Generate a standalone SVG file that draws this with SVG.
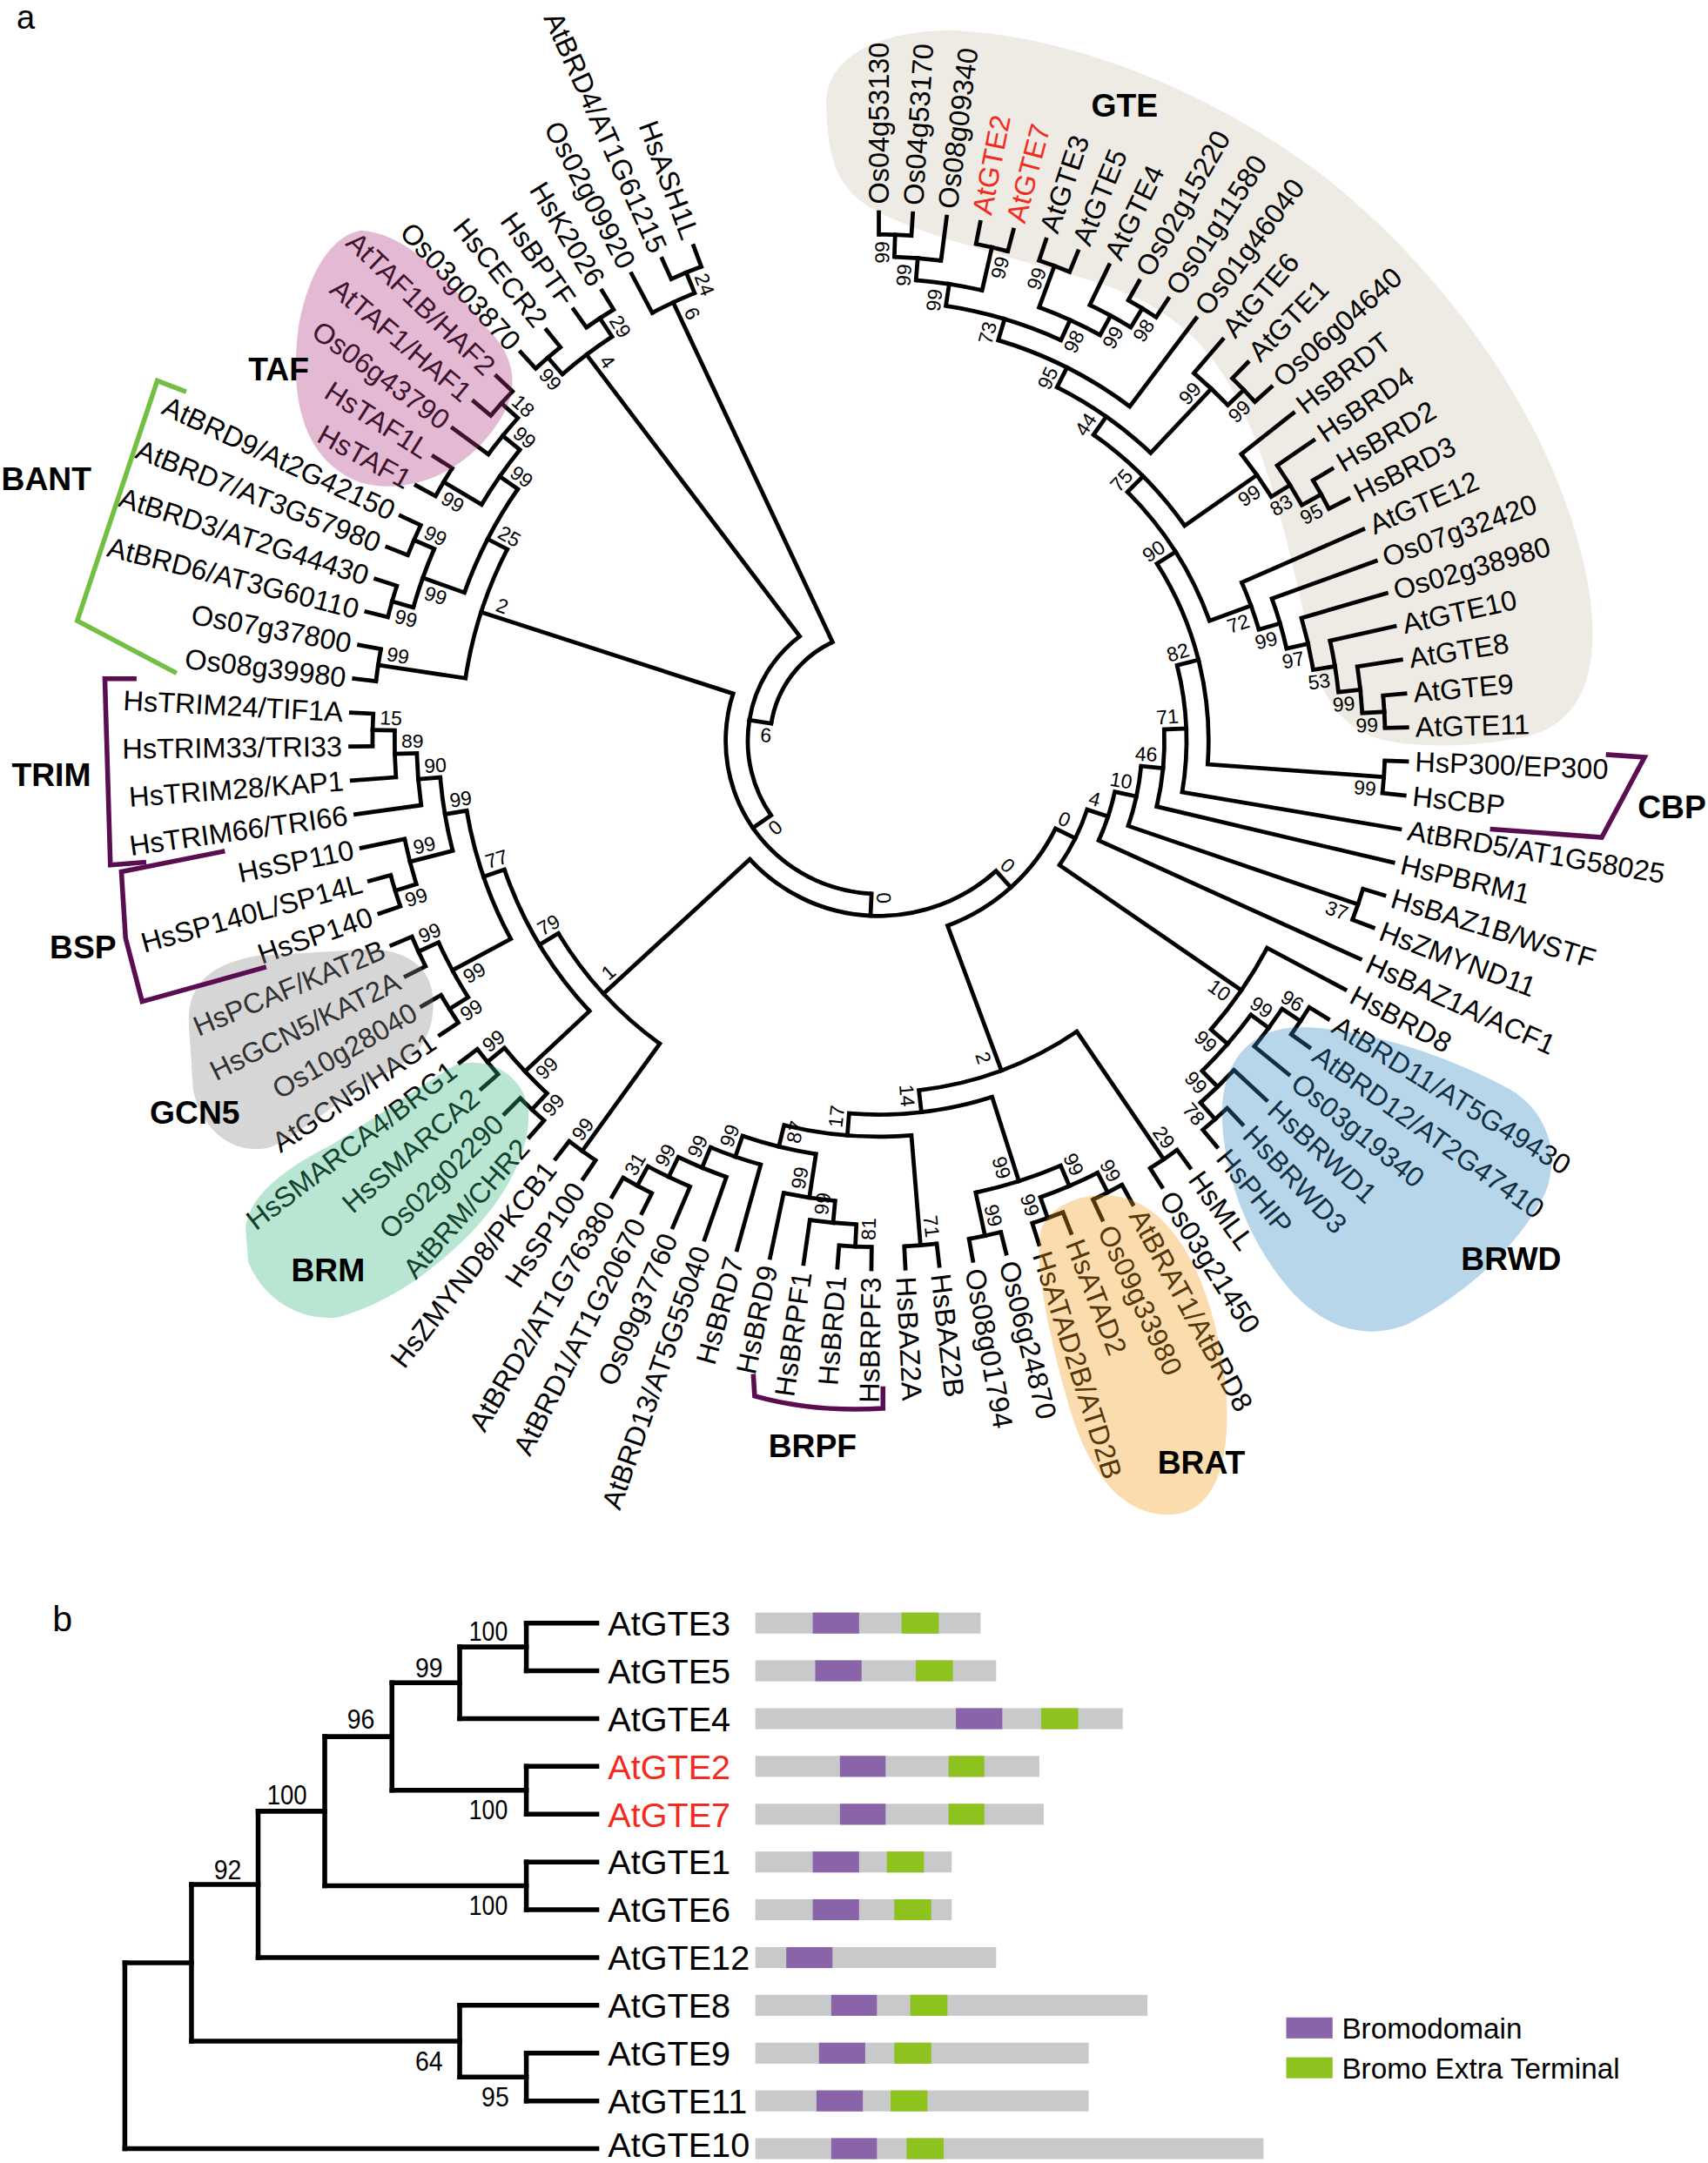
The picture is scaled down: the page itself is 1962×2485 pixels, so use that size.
<svg xmlns="http://www.w3.org/2000/svg" width="1962" height="2485" viewBox="0 0 1962 2485">
<style>
text{font-family:"Liberation Sans",Arial,sans-serif}
#connectors path,#connectors circle{fill:none;stroke:#000;stroke-width:3}
#connectors path{stroke-linecap:square}
.lf text{font-size:20.5px;dominant-baseline:central}
.lf .e{text-anchor:end}
.red{fill:#f52a1f}
.bsg text{font-size:14.5px;text-anchor:middle;dominant-baseline:central}
.grp{font-size:23.5px;font-weight:bold}
.brk{fill:none;stroke-width:3.5}
.pb{stroke:#5b0d52}
#tree-b path{fill:none;stroke:#000;stroke-width:3.5;stroke-linecap:square}
.bl{font-size:25px}
.bb{font-size:19.5px;text-anchor:middle}
.gy{fill:#c8c9cb}.pu{fill:#8a64a8}.gr{fill:#8dc21f}
</style>
<rect width="1962" height="2485" fill="#fff"/>
<g transform="scale(1.58481)">
<text x="12" y="21" font-size="24">a</text>
<path id="blob-GTE" fill="#eeebe4" d="M599,80 C595,40 640,22 690,22 C780,26 880,68 960,128 C1060,208 1130,318 1150,418 C1160,470 1155,520 1110,533 C1070,543 1010,543 990,532 C965,520 955,495 950,470 C940,420 925,350 900,295 C875,245 845,220 790,203 C720,183 665,170 630,150 C605,135 600,110 599,80 Z"/>
<g id="connectors" transform="translate(637 537)">
<circle r="367" pathLength="360" stroke-dasharray="3.69 400" transform="rotate(-90)"/>
<circle r="351" pathLength="360" stroke-dasharray="5.54 400" transform="rotate(-88.16)"/>
<circle r="367" pathLength="360" stroke-dasharray="3.69 400" transform="rotate(-78.93)"/>
<circle r="335" pathLength="360" stroke-dasharray="8.30 400" transform="rotate(-85.39)"/>
<circle r="367" pathLength="360" stroke-dasharray="3.69 400" transform="rotate(-71.55)"/>
<circle r="367" pathLength="360" stroke-dasharray="3.69 400" transform="rotate(-60.48)"/>
<circle r="351" pathLength="360" stroke-dasharray="5.53 400" transform="rotate(-64.17)"/>
<circle r="335" pathLength="360" stroke-dasharray="8.31 400" transform="rotate(-69.71)"/>
<circle r="319" pathLength="360" stroke-dasharray="15.69 400" transform="rotate(-81.24)"/>
<circle r="303" pathLength="360" stroke-dasharray="20.30 400" transform="rotate(-73.4)"/>
<circle r="367" pathLength="360" stroke-dasharray="3.69 400" transform="rotate(-45.72)"/>
<circle r="351" pathLength="360" stroke-dasharray="5.53 400" transform="rotate(-49.41)"/>
<circle r="287" pathLength="360" stroke-dasharray="16.61 400" transform="rotate(-63.25)"/>
<circle r="367" pathLength="360" stroke-dasharray="3.69 400" transform="rotate(-30.96)"/>
<circle r="351" pathLength="360" stroke-dasharray="5.53 400" transform="rotate(-34.65)"/>
<circle r="335" pathLength="360" stroke-dasharray="6.46 400" transform="rotate(-38.34)"/>
<circle r="271" pathLength="360" stroke-dasharray="19.84 400" transform="rotate(-54.95)"/>
<circle r="367" pathLength="360" stroke-dasharray="3.69 400" transform="rotate(-5.13)"/>
<circle r="351" pathLength="360" stroke-dasharray="5.53 400" transform="rotate(-8.82)"/>
<circle r="335" pathLength="360" stroke-dasharray="6.46 400" transform="rotate(-12.51)"/>
<circle r="319" pathLength="360" stroke-dasharray="6.92 400" transform="rotate(-16.2)"/>
<circle r="303" pathLength="360" stroke-dasharray="7.15 400" transform="rotate(-19.89)"/>
<circle r="287" pathLength="360" stroke-dasharray="7.26 400" transform="rotate(-23.58)"/>
<circle r="255" pathLength="360" stroke-dasharray="25.08 400" transform="rotate(-45.03)"/>
<circle r="367" pathLength="360" stroke-dasharray="3.69 400" transform="rotate(2.25)"/>
<circle r="239" pathLength="360" stroke-dasharray="36.59 400" transform="rotate(-32.49)"/>
<circle r="223" pathLength="360" stroke-dasharray="23.83 400" transform="rotate(-14.2)"/>
<circle r="207" pathLength="360" stroke-dasharray="15.61 400" transform="rotate(-2.29)"/>
<circle r="367" pathLength="360" stroke-dasharray="3.69 400" transform="rotate(17.01)"/>
<circle r="191" pathLength="360" stroke-dasharray="13.34 400" transform="rotate(5.52)"/>
<circle r="175" pathLength="360" stroke-dasharray="12.20 400" transform="rotate(12.19)"/>
<circle r="367" pathLength="360" stroke-dasharray="3.69 400" transform="rotate(31.77)"/>
<circle r="351" pathLength="360" stroke-dasharray="5.53 400" transform="rotate(33.62)"/>
<circle r="367" pathLength="360" stroke-dasharray="3.69 400" transform="rotate(46.53)"/>
<circle r="351" pathLength="360" stroke-dasharray="5.54 400" transform="rotate(42.84)"/>
<circle r="335" pathLength="360" stroke-dasharray="9.23 400" transform="rotate(36.38)"/>
<circle r="319" pathLength="360" stroke-dasharray="12.92 400" transform="rotate(28.08)"/>
<circle r="159" pathLength="360" stroke-dasharray="16.25 400" transform="rotate(18.29)"/>
<circle r="367" pathLength="360" stroke-dasharray="3.69 400" transform="rotate(53.91)"/>
<circle r="367" pathLength="360" stroke-dasharray="3.69 400" transform="rotate(61.29)"/>
<circle r="367" pathLength="360" stroke-dasharray="3.69 400" transform="rotate(68.67)"/>
<circle r="351" pathLength="360" stroke-dasharray="7.38 400" transform="rotate(63.14)"/>
<circle r="367" pathLength="360" stroke-dasharray="3.69 400" transform="rotate(76.05)"/>
<circle r="335" pathLength="360" stroke-dasharray="11.07 400" transform="rotate(66.83)"/>
<circle r="367" pathLength="360" stroke-dasharray="3.69 400" transform="rotate(83.43)"/>
<circle r="367" pathLength="360" stroke-dasharray="3.69 400" transform="rotate(90.81)"/>
<circle r="351" pathLength="360" stroke-dasharray="5.53 400" transform="rotate(92.66)"/>
<circle r="335" pathLength="360" stroke-dasharray="6.46 400" transform="rotate(95.42)"/>
<circle r="367" pathLength="360" stroke-dasharray="3.69 400" transform="rotate(116.64)"/>
<circle r="351" pathLength="360" stroke-dasharray="5.54 400" transform="rotate(112.95)"/>
<circle r="335" pathLength="360" stroke-dasharray="6.46 400" transform="rotate(109.26)"/>
<circle r="319" pathLength="360" stroke-dasharray="6.92 400" transform="rotate(105.57)"/>
<circle r="303" pathLength="360" stroke-dasharray="10.38 400" transform="rotate(98.65)"/>
<circle r="287" pathLength="360" stroke-dasharray="18.56 400" transform="rotate(85.28)"/>
<circle r="271" pathLength="360" stroke-dasharray="22.20 400" transform="rotate(72.36)"/>
<circle r="255" pathLength="360" stroke-dasharray="27.70 400" transform="rotate(55.76)"/>
<circle r="143" pathLength="360" stroke-dasharray="43.20 400" transform="rotate(26.41)"/>
<circle r="367" pathLength="360" stroke-dasharray="3.69 400" transform="rotate(124.02)"/>
<circle r="367" pathLength="360" stroke-dasharray="3.69 400" transform="rotate(131.4)"/>
<circle r="367" pathLength="360" stroke-dasharray="3.69 400" transform="rotate(138.78)"/>
<circle r="351" pathLength="360" stroke-dasharray="7.38 400" transform="rotate(133.25)"/>
<circle r="367" pathLength="360" stroke-dasharray="3.69 400" transform="rotate(146.16)"/>
<circle r="367" pathLength="360" stroke-dasharray="3.69 400" transform="rotate(153.54)"/>
<circle r="351" pathLength="360" stroke-dasharray="7.38 400" transform="rotate(148.01)"/>
<circle r="367" pathLength="360" stroke-dasharray="3.69 400" transform="rotate(160.92)"/>
<circle r="351" pathLength="360" stroke-dasharray="5.53 400" transform="rotate(162.77)"/>
<circle r="367" pathLength="360" stroke-dasharray="3.69 400" transform="rotate(179.37)"/>
<circle r="351" pathLength="360" stroke-dasharray="5.54 400" transform="rotate(175.68)"/>
<circle r="335" pathLength="360" stroke-dasharray="6.46 400" transform="rotate(171.99)"/>
<circle r="319" pathLength="360" stroke-dasharray="9.69 400" transform="rotate(165.53)"/>
<circle r="303" pathLength="360" stroke-dasharray="18.68 400" transform="rotate(151.7)"/>
<circle r="287" pathLength="360" stroke-dasharray="24.09 400" transform="rotate(136.94)"/>
<circle r="271" pathLength="360" stroke-dasharray="23.12 400" transform="rotate(125.87)"/>
<circle r="127" pathLength="360" stroke-dasharray="89.42 400" transform="rotate(48.01)"/>
<circle r="367" pathLength="360" stroke-dasharray="3.69 400" transform="rotate(186.75)"/>
<circle r="367" pathLength="360" stroke-dasharray="3.69 400" transform="rotate(194.13)"/>
<circle r="367" pathLength="360" stroke-dasharray="3.69 400" transform="rotate(201.51)"/>
<circle r="351" pathLength="360" stroke-dasharray="7.38 400" transform="rotate(195.98)"/>
<circle r="367" pathLength="360" stroke-dasharray="3.69 400" transform="rotate(208.89)"/>
<circle r="367" pathLength="360" stroke-dasharray="3.69 400" transform="rotate(219.96)"/>
<circle r="351" pathLength="360" stroke-dasharray="5.54 400" transform="rotate(216.27)"/>
<circle r="335" pathLength="360" stroke-dasharray="8.30 400" transform="rotate(210.74)"/>
<circle r="319" pathLength="360" stroke-dasharray="15.22 400" transform="rotate(199.67)"/>
<circle r="303" pathLength="360" stroke-dasharray="18.68 400" transform="rotate(188.6)"/>
<circle r="111" pathLength="360" stroke-dasharray="105.21 400" transform="rotate(92.72)"/>
<circle r="367" pathLength="360" stroke-dasharray="3.69 400" transform="rotate(227.34)"/>
<circle r="367" pathLength="360" stroke-dasharray="3.69 400" transform="rotate(234.72)"/>
<circle r="351" pathLength="360" stroke-dasharray="7.38 400" transform="rotate(229.19)"/>
<circle r="95" pathLength="360" stroke-dasharray="87.55 400" transform="rotate(145.33)"/>
<circle r="367" pathLength="360" stroke-dasharray="3.69 400" transform="rotate(245.79)"/>
<circle r="351" pathLength="360" stroke-dasharray="5.54 400" transform="rotate(242.1)"/>
<circle r="79" pathLength="360" stroke-dasharray="55.77 400" transform="rotate(189.1)"/>
<path transform="rotate(-88.16)" d="M351 0H367"/>
<path transform="rotate(-85.39)" d="M335 0H351"/>
<path transform="rotate(-77.09)" d="M335 0H367"/>
<path transform="rotate(-81.24)" d="M319 0H335"/>
<path transform="rotate(-69.71)" d="M335 0H367"/>
<path transform="rotate(-58.64)" d="M351 0H367"/>
<path transform="rotate(-61.4)" d="M335 0H351"/>
<path transform="rotate(-65.55)" d="M319 0H335"/>
<path transform="rotate(-73.4)" d="M303 0H319"/>
<path transform="rotate(-63.25)" d="M287 0H303"/>
<path transform="rotate(-43.88)" d="M351 0H367"/>
<path transform="rotate(-46.64)" d="M287 0H351"/>
<path transform="rotate(-54.95)" d="M271 0H287"/>
<path transform="rotate(-29.12)" d="M351 0H367"/>
<path transform="rotate(-31.88)" d="M335 0H351"/>
<path transform="rotate(-35.11)" d="M271 0H335"/>
<path transform="rotate(-45.03)" d="M255 0H271"/>
<path transform="rotate(-3.29)" d="M351 0H367"/>
<path transform="rotate(-6.05)" d="M335 0H351"/>
<path transform="rotate(-9.28)" d="M319 0H335"/>
<path transform="rotate(-12.74)" d="M303 0H319"/>
<path transform="rotate(-16.32)" d="M287 0H303"/>
<path transform="rotate(-19.95)" d="M255 0H287"/>
<path transform="rotate(-32.49)" d="M239 0H255"/>
<path transform="rotate(4.1)" d="M239 0H367"/>
<path transform="rotate(-14.2)" d="M223 0H239"/>
<path transform="rotate(-2.29)" d="M207 0H223"/>
<path transform="rotate(5.52)" d="M191 0H207"/>
<path transform="rotate(18.86)" d="M191 0H367"/>
<path transform="rotate(12.19)" d="M175 0H191"/>
<path transform="rotate(18.29)" d="M159 0H175"/>
<path transform="rotate(33.62)" d="M351 0H367"/>
<path transform="rotate(36.38)" d="M335 0H351"/>
<path transform="rotate(48.38)" d="M351 0H367"/>
<path transform="rotate(45.61)" d="M335 0H351"/>
<path transform="rotate(41)" d="M319 0H335"/>
<path transform="rotate(34.54)" d="M159 0H319"/>
<path transform="rotate(26.41)" d="M143 0H159"/>
<path transform="rotate(55.76)" d="M255 0H367"/>
<path transform="rotate(63.14)" d="M351 0H367"/>
<path transform="rotate(70.52)" d="M351 0H367"/>
<path transform="rotate(66.83)" d="M335 0H351"/>
<path transform="rotate(77.9)" d="M335 0H367"/>
<path transform="rotate(72.36)" d="M271 0H335"/>
<path transform="rotate(85.28)" d="M287 0H367"/>
<path transform="rotate(92.66)" d="M351 0H367"/>
<path transform="rotate(95.42)" d="M335 0H351"/>
<path transform="rotate(98.65)" d="M303 0H335"/>
<path transform="rotate(118.49)" d="M351 0H367"/>
<path transform="rotate(115.72)" d="M335 0H351"/>
<path transform="rotate(112.49)" d="M319 0H335"/>
<path transform="rotate(109.03)" d="M303 0H319"/>
<path transform="rotate(103.84)" d="M287 0H303"/>
<path transform="rotate(94.56)" d="M271 0H287"/>
<path transform="rotate(83.46)" d="M255 0H271"/>
<path transform="rotate(69.61)" d="M143 0H255"/>
<path transform="rotate(48.01)" d="M127 0H143"/>
<path transform="rotate(125.87)" d="M271 0H367"/>
<path transform="rotate(133.25)" d="M351 0H367"/>
<path transform="rotate(140.63)" d="M351 0H367"/>
<path transform="rotate(136.94)" d="M287 0H351"/>
<path transform="rotate(148.01)" d="M351 0H367"/>
<path transform="rotate(155.39)" d="M351 0H367"/>
<path transform="rotate(151.7)" d="M303 0H351"/>
<path transform="rotate(162.77)" d="M351 0H367"/>
<path transform="rotate(165.53)" d="M319 0H351"/>
<path transform="rotate(181.22)" d="M351 0H367"/>
<path transform="rotate(178.45)" d="M335 0H351"/>
<path transform="rotate(175.22)" d="M319 0H335"/>
<path transform="rotate(170.38)" d="M303 0H319"/>
<path transform="rotate(161.03)" d="M287 0H303"/>
<path transform="rotate(148.99)" d="M271 0H287"/>
<path transform="rotate(137.43)" d="M127 0H271"/>
<path transform="rotate(92.72)" d="M111 0H127"/>
<path transform="rotate(188.6)" d="M303 0H367"/>
<path transform="rotate(195.98)" d="M351 0H367"/>
<path transform="rotate(203.36)" d="M351 0H367"/>
<path transform="rotate(199.67)" d="M319 0H351"/>
<path transform="rotate(210.74)" d="M335 0H367"/>
<path transform="rotate(221.81)" d="M351 0H367"/>
<path transform="rotate(219.04)" d="M335 0H351"/>
<path transform="rotate(214.89)" d="M319 0H335"/>
<path transform="rotate(207.28)" d="M303 0H319"/>
<path transform="rotate(197.93)" d="M111 0H303"/>
<path transform="rotate(145.33)" d="M95 0H111"/>
<path transform="rotate(229.19)" d="M351 0H367"/>
<path transform="rotate(236.57)" d="M351 0H367"/>
<path transform="rotate(232.88)" d="M95 0H351"/>
<path transform="rotate(189.1)" d="M79 0H95"/>
<path transform="rotate(247.64)" d="M351 0H367"/>
<path transform="rotate(244.87)" d="M79 0H351"/>
<path transform="rotate(-90)" d="M367 0H383"/>
<path transform="rotate(-86.31)" d="M367 0H383"/>
<path transform="rotate(-82.62)" d="M351 0H383"/>
<path transform="rotate(-78.93)" d="M367 0H383"/>
<path transform="rotate(-75.24)" d="M367 0H383"/>
<path transform="rotate(-71.55)" d="M367 0H383"/>
<path transform="rotate(-67.86)" d="M367 0H383"/>
<path transform="rotate(-64.17)" d="M351 0H383"/>
<path transform="rotate(-60.48)" d="M367 0H383"/>
<path transform="rotate(-56.79)" d="M367 0H383"/>
<path transform="rotate(-53.1)" d="M303 0H383"/>
<path transform="rotate(-49.41)" d="M351 0H383"/>
<path transform="rotate(-45.72)" d="M367 0H383"/>
<path transform="rotate(-42.03)" d="M367 0H383"/>
<path transform="rotate(-38.34)" d="M335 0H383"/>
<path transform="rotate(-34.65)" d="M351 0H383"/>
<path transform="rotate(-30.96)" d="M367 0H383"/>
<path transform="rotate(-27.27)" d="M367 0H383"/>
<path transform="rotate(-23.58)" d="M287 0H383"/>
<path transform="rotate(-19.89)" d="M303 0H383"/>
<path transform="rotate(-16.2)" d="M319 0H383"/>
<path transform="rotate(-12.51)" d="M335 0H383"/>
<path transform="rotate(-8.82)" d="M351 0H383"/>
<path transform="rotate(-5.13)" d="M367 0H383"/>
<path transform="rotate(-1.44)" d="M367 0H383"/>
<path transform="rotate(2.25)" d="M367 0H383"/>
<path transform="rotate(5.94)" d="M367 0H383"/>
<path transform="rotate(9.63)" d="M223 0H383"/>
<path transform="rotate(13.32)" d="M207 0H383"/>
<path transform="rotate(17.01)" d="M367 0H383"/>
<path transform="rotate(20.7)" d="M367 0H383"/>
<path transform="rotate(24.39)" d="M175 0H383"/>
<path transform="rotate(28.08)" d="M319 0H383"/>
<path transform="rotate(31.77)" d="M367 0H383"/>
<path transform="rotate(35.46)" d="M367 0H383"/>
<path transform="rotate(39.15)" d="M351 0H383"/>
<path transform="rotate(42.84)" d="M351 0H383"/>
<path transform="rotate(46.53)" d="M367 0H383"/>
<path transform="rotate(50.22)" d="M367 0H383"/>
<path transform="rotate(53.91)" d="M367 0H383"/>
<path transform="rotate(57.6)" d="M367 0H383"/>
<path transform="rotate(61.29)" d="M367 0H383"/>
<path transform="rotate(64.98)" d="M367 0H383"/>
<path transform="rotate(68.67)" d="M367 0H383"/>
<path transform="rotate(72.36)" d="M367 0H383"/>
<path transform="rotate(76.05)" d="M367 0H383"/>
<path transform="rotate(79.74)" d="M367 0H383"/>
<path transform="rotate(83.43)" d="M367 0H383"/>
<path transform="rotate(87.12)" d="M367 0H383"/>
<path transform="rotate(90.81)" d="M367 0H383"/>
<path transform="rotate(94.5)" d="M367 0H383"/>
<path transform="rotate(98.19)" d="M351 0H383"/>
<path transform="rotate(101.88)" d="M335 0H383"/>
<path transform="rotate(105.57)" d="M319 0H383"/>
<path transform="rotate(109.26)" d="M335 0H383"/>
<path transform="rotate(112.95)" d="M351 0H383"/>
<path transform="rotate(116.64)" d="M367 0H383"/>
<path transform="rotate(120.33)" d="M367 0H383"/>
<path transform="rotate(124.02)" d="M367 0H383"/>
<path transform="rotate(127.71)" d="M367 0H383"/>
<path transform="rotate(131.4)" d="M367 0H383"/>
<path transform="rotate(135.09)" d="M367 0H383"/>
<path transform="rotate(138.78)" d="M367 0H383"/>
<path transform="rotate(142.47)" d="M367 0H383"/>
<path transform="rotate(146.16)" d="M367 0H383"/>
<path transform="rotate(149.85)" d="M367 0H383"/>
<path transform="rotate(153.54)" d="M367 0H383"/>
<path transform="rotate(157.23)" d="M367 0H383"/>
<path transform="rotate(160.92)" d="M367 0H383"/>
<path transform="rotate(164.61)" d="M367 0H383"/>
<path transform="rotate(168.3)" d="M351 0H383"/>
<path transform="rotate(171.99)" d="M335 0H383"/>
<path transform="rotate(175.68)" d="M351 0H383"/>
<path transform="rotate(179.37)" d="M367 0H383"/>
<path transform="rotate(183.06)" d="M367 0H383"/>
<path transform="rotate(186.75)" d="M367 0H383"/>
<path transform="rotate(190.44)" d="M367 0H383"/>
<path transform="rotate(194.13)" d="M367 0H383"/>
<path transform="rotate(197.82)" d="M367 0H383"/>
<path transform="rotate(201.51)" d="M367 0H383"/>
<path transform="rotate(205.2)" d="M367 0H383"/>
<path transform="rotate(208.89)" d="M367 0H383"/>
<path transform="rotate(212.58)" d="M367 0H383"/>
<path transform="rotate(216.27)" d="M351 0H383"/>
<path transform="rotate(219.96)" d="M367 0H383"/>
<path transform="rotate(223.65)" d="M367 0H383"/>
<path transform="rotate(227.34)" d="M367 0H383"/>
<path transform="rotate(231.03)" d="M367 0H383"/>
<path transform="rotate(234.72)" d="M367 0H383"/>
<path transform="rotate(238.41)" d="M367 0H383"/>
<path transform="rotate(242.1)" d="M351 0H383"/>
<path transform="rotate(245.79)" d="M367 0H383"/>
<path transform="rotate(249.48)" d="M367 0H383"/>
</g>
<g id="leaves" class="lf" transform="translate(637 537)">
<text id="n-Os04g53130" transform="rotate(-90) translate(389 0)">Os04g53130</text>
<text id="n-Os04g53170" transform="rotate(-86.31) translate(389 0)">Os04g53170</text>
<text id="n-Os08g09340" transform="rotate(-82.62) translate(389 0)">Os08g09340</text>
<text id="n-AtGTE2" class="red" transform="rotate(-78.93) translate(389 0)">AtGTE2</text>
<text id="n-AtGTE7" class="red" transform="rotate(-75.24) translate(389 0)">AtGTE7</text>
<text id="n-AtGTE3" transform="rotate(-71.55) translate(389 0)">AtGTE3</text>
<text id="n-AtGTE5" transform="rotate(-67.86) translate(389 0)">AtGTE5</text>
<text id="n-AtGTE4" transform="rotate(-64.17) translate(389 0)">AtGTE4</text>
<text id="n-Os02g15220" transform="rotate(-60.48) translate(389 0)">Os02g15220</text>
<text id="n-Os01g11580" transform="rotate(-56.79) translate(389 0)">Os01g11580</text>
<text id="n-Os01g46040" transform="rotate(-53.1) translate(389 0)">Os01g46040</text>
<text id="n-AtGTE6" transform="rotate(-49.41) translate(389 0)">AtGTE6</text>
<text id="n-AtGTE1" transform="rotate(-45.72) translate(389 0)">AtGTE1</text>
<text id="n-Os06g04640" transform="rotate(-42.03) translate(389 0)">Os06g04640</text>
<text id="n-HsBRDT" transform="rotate(-38.34) translate(389 0)">HsBRDT</text>
<text id="n-HsBRD4" transform="rotate(-34.65) translate(389 0)">HsBRD4</text>
<text id="n-HsBRD2" transform="rotate(-30.96) translate(389 0)">HsBRD2</text>
<text id="n-HsBRD3" transform="rotate(-27.27) translate(389 0)">HsBRD3</text>
<text id="n-AtGTE12" transform="rotate(-23.58) translate(389 0)">AtGTE12</text>
<text id="n-Os07g32420" transform="rotate(-19.89) translate(389 0)">Os07g32420</text>
<text id="n-Os02g38980" transform="rotate(-16.2) translate(389 0)">Os02g38980</text>
<text id="n-AtGTE10" transform="rotate(-12.51) translate(389 0)">AtGTE10</text>
<text id="n-AtGTE8" transform="rotate(-8.82) translate(389 0)">AtGTE8</text>
<text id="n-AtGTE9" transform="rotate(-5.13) translate(389 0)">AtGTE9</text>
<text id="n-AtGTE11" transform="rotate(-1.44) translate(389 0)">AtGTE11</text>
<text id="n-HsP300" transform="rotate(2.25) translate(389 0)">HsP300/EP300</text>
<text id="n-HsCBP" transform="rotate(5.94) translate(389 0)">HsCBP</text>
<text id="n-AtBRD5" transform="rotate(9.63) translate(389 0)">AtBRD5/AT1G58025</text>
<text id="n-HsPBRM1" transform="rotate(13.32) translate(389 0)">HsPBRM1</text>
<text id="n-HsBAZ1B" transform="rotate(17.01) translate(389 0)">HsBAZ1B/WSTF</text>
<text id="n-HsZMYND11" transform="rotate(20.7) translate(389 0)">HsZMYND11</text>
<text id="n-HsBAZ1A" transform="rotate(24.39) translate(389 0)">HsBAZ1A/ACF1</text>
<text id="n-HsBRD8" transform="rotate(28.08) translate(389 0)">HsBRD8</text>
<text id="n-AtBRD11" transform="rotate(31.77) translate(389 0)">AtBRD11/AT5G49430</text>
<text id="n-AtBRD12" transform="rotate(35.46) translate(389 0)">AtBRD12/AT2G47410</text>
<text id="n-Os03g19340" transform="rotate(39.15) translate(389 0)">Os03g19340</text>
<text id="n-HsBRWD1" transform="rotate(42.84) translate(389 0)">HsBRWD1</text>
<text id="n-HsBRWD3" transform="rotate(46.53) translate(389 0)">HsBRWD3</text>
<text id="n-HsPHIP" transform="rotate(50.22) translate(389 0)">HsPHIP</text>
<text id="n-HsMLL" transform="rotate(53.91) translate(389 0)">HsMLL</text>
<text id="n-Os03g21450" transform="rotate(57.6) translate(389 0)">Os03g21450</text>
<text id="n-AtBRAT1" transform="rotate(61.29) translate(389 0)">AtBRAT1/AtBRD8</text>
<text id="n-Os09g33980" transform="rotate(64.98) translate(389 0)">Os09g33980</text>
<text id="n-HsATAD2" transform="rotate(68.67) translate(389 0)">HsATAD2</text>
<text id="n-HsATAD2B" transform="rotate(72.36) translate(389 0)">HsATAD2B/ATD2B</text>
<text id="n-Os06g24870" transform="rotate(76.05) translate(389 0)">Os06g24870</text>
<text id="n-Os08g01794" transform="rotate(79.74) translate(389 0)">Os08g01794</text>
<text id="n-HsBAZ2B" transform="rotate(83.43) translate(389 0)">HsBAZ2B</text>
<text id="n-HsBAZ2A" transform="rotate(87.12) translate(389 0)">HsBAZ2A</text>
<text id="n-HsBRPF3" class="e" transform="rotate(90.81) translate(389 0) rotate(180)">HsBRPF3</text>
<text id="n-HsBRD1" class="e" transform="rotate(94.5) translate(389 0) rotate(180)">HsBRD1</text>
<text id="n-HsBRPF1" class="e" transform="rotate(98.19) translate(389 0) rotate(180)">HsBRPF1</text>
<text id="n-HsBRD9" class="e" transform="rotate(101.88) translate(389 0) rotate(180)">HsBRD9</text>
<text id="n-HsBRD7" class="e" transform="rotate(105.57) translate(389 0) rotate(180)">HsBRD7</text>
<text id="n-AtBRD13" class="e" transform="rotate(109.26) translate(389 0) rotate(180)">AtBRD13/AT5G55040</text>
<text id="n-Os09g37760" class="e" transform="rotate(112.95) translate(389 0) rotate(180)">Os09g37760</text>
<text id="n-AtBRD1" class="e" transform="rotate(116.64) translate(389 0) rotate(180)">AtBRD1/AT1G20670</text>
<text id="n-AtBRD2" class="e" transform="rotate(120.33) translate(389 0) rotate(180)">AtBRD2/AT1G76380</text>
<text id="n-HsSP100" class="e" transform="rotate(124.02) translate(389 0) rotate(180)">HsSP100</text>
<text id="n-HsZMYND8" class="e" transform="rotate(127.71) translate(389 0) rotate(180)">HsZMYND8/PKCB1</text>
<text id="n-AtBRM" class="e" transform="rotate(131.4) translate(389 0) rotate(180)">AtBRM/CHR2</text>
<text id="n-Os02g02290" class="e" transform="rotate(135.09) translate(389 0) rotate(180)">Os02g02290</text>
<text id="n-HsSMARCA2" class="e" transform="rotate(138.78) translate(389 0) rotate(180)">HsSMARCA2</text>
<text id="n-HsSMARCA4" class="e" transform="rotate(142.47) translate(389 0) rotate(180)">HsSMARCA4/BRG1</text>
<text id="n-AtGCN5" class="e" transform="rotate(146.16) translate(389 0) rotate(180)">AtGCN5/HAG1</text>
<text id="n-Os10g28040" class="e" transform="rotate(149.85) translate(389 0) rotate(180)">Os10g28040</text>
<text id="n-HsGCN5" class="e" transform="rotate(153.54) translate(389 0) rotate(180)">HsGCN5/KAT2A</text>
<text id="n-HsPCAF" class="e" transform="rotate(157.23) translate(389 0) rotate(180)">HsPCAF/KAT2B</text>
<text id="n-HsSP140" class="e" transform="rotate(160.92) translate(389 0) rotate(180)">HsSP140</text>
<text id="n-HsSP140L" class="e" transform="rotate(164.61) translate(389 0) rotate(180)">HsSP140L/SP14L</text>
<text id="n-HsSP110" class="e" transform="rotate(168.3) translate(389 0) rotate(180)">HsSP110</text>
<text id="n-HsTRIM66" class="e" transform="rotate(171.99) translate(389 0) rotate(180)">HsTRIM66/TRI66</text>
<text id="n-HsTRIM28" class="e" transform="rotate(175.68) translate(389 0) rotate(180)">HsTRIM28/KAP1</text>
<text id="n-HsTRIM33" class="e" transform="rotate(179.37) translate(389 0) rotate(180)">HsTRIM33/TRI33</text>
<text id="n-HsTRIM24" class="e" transform="rotate(183.06) translate(389 0) rotate(180)">HsTRIM24/TIF1A</text>
<text id="n-Os08g39980" class="e" transform="rotate(186.75) translate(389 0) rotate(180)">Os08g39980</text>
<text id="n-Os07g37800" class="e" transform="rotate(190.44) translate(389 0) rotate(180)">Os07g37800</text>
<text id="n-AtBRD6" class="e" transform="rotate(194.13) translate(389 0) rotate(180)">AtBRD6/AT3G60110</text>
<text id="n-AtBRD3" class="e" transform="rotate(197.82) translate(389 0) rotate(180)">AtBRD3/AT2G44430</text>
<text id="n-AtBRD7" class="e" transform="rotate(201.51) translate(389 0) rotate(180)">AtBRD7/AT3G57980</text>
<text id="n-AtBRD9" class="e" transform="rotate(205.2) translate(389 0) rotate(180)">AtBRD9/At2G42150</text>
<text id="n-HsTAF1" class="e" transform="rotate(208.89) translate(389 0) rotate(180)">HsTAF1</text>
<text id="n-HsTAF1L" class="e" transform="rotate(212.58) translate(389 0) rotate(180)">HsTAF1L</text>
<text id="n-Os06g43790" class="e" transform="rotate(216.27) translate(389 0) rotate(180)">Os06g43790</text>
<text id="n-AtTAF1" class="e" transform="rotate(219.96) translate(389 0) rotate(180)">AtTAF1/HAF1</text>
<text id="n-AtTAF1B" class="e" transform="rotate(223.65) translate(389 0) rotate(180)">AtTAF1B/HAF2</text>
<text id="n-Os03g03870" class="e" transform="rotate(227.34) translate(389 0) rotate(180)">Os03g03870</text>
<text id="n-HsCECR2" class="e" transform="rotate(231.03) translate(389 0) rotate(180)">HsCECR2</text>
<text id="n-HsBPTF" class="e" transform="rotate(234.72) translate(389 0) rotate(180)">HsBPTF</text>
<text id="n-HsK2026" class="e" transform="rotate(238.41) translate(389 0) rotate(180)">HsK2026</text>
<text id="n-Os02g09920" class="e" transform="rotate(242.1) translate(389 0) rotate(180)">Os02g09920</text>
<text id="n-AtBRD4" class="e" transform="rotate(245.79) translate(389 0) rotate(180)">AtBRD4/AT1G61215</text>
<text id="n-HsASH1L" class="e" transform="rotate(249.48) translate(389 0) rotate(180)">HsASH1L</text>
</g>
<g id="support" class="bsg" transform="translate(637 537)">
<text transform="rotate(-89.62) translate(354 0)">99</text>
<text transform="rotate(-86.92) translate(338 0)">99</text>
<text transform="rotate(-75.63) translate(354 0)">99</text>
<text transform="rotate(-82.84) translate(322 0)">99</text>
<text transform="rotate(-71.17) translate(354 0)">99</text>
<text transform="rotate(-57.18) translate(354 0)">98</text>
<text transform="rotate(-59.87) translate(338 0)">99</text>
<text transform="rotate(-63.95) translate(322 0)">98</text>
<text transform="rotate(-75.09) translate(306 0)">73</text>
<text transform="rotate(-65.03) translate(290 0)">95</text>
<text transform="rotate(-42.42) translate(354 0)">99</text>
<text transform="rotate(-48.17) translate(338 0)">99</text>
<text transform="rotate(-56.83) translate(274 0)">44</text>
<text transform="rotate(-27.66) translate(354 0)">95</text>
<text transform="rotate(-30.35) translate(338 0)">83</text>
<text transform="rotate(-33.51) translate(322 0)">99</text>
<text transform="rotate(-47.03) translate(258 0)">75</text>
<text transform="rotate(-1.83) translate(354 0)">99</text>
<text transform="rotate(-4.52) translate(338 0)">99</text>
<text transform="rotate(-7.68) translate(322 0)">53</text>
<text transform="rotate(-11.05) translate(306 0)">97</text>
<text transform="rotate(-14.54) translate(290 0)">99</text>
<text transform="rotate(-18.07) translate(274 0)">72</text>
<text transform="rotate(-34.62) translate(242 0)">90</text>
<text transform="rotate(5.56) translate(354 0)">99</text>
<text transform="rotate(-16.48) translate(226 0)">82</text>
<text transform="rotate(-4.75) translate(210 0)">71</text>
<text transform="rotate(2.86) translate(194 0)">46</text>
<text transform="rotate(20.32) translate(354 0)">37</text>
<text transform="rotate(9.29) translate(178 0)">10</text>
<text transform="rotate(15.1) translate(162 0)">4</text>
<text transform="rotate(32.16) translate(354 0)">96</text>
<text transform="rotate(34.85) translate(338 0)">99</text>
<text transform="rotate(49.84) translate(354 0)">78</text>
<text transform="rotate(47.14) translate(338 0)">99</text>
<text transform="rotate(42.6) translate(322 0)">99</text>
<text transform="rotate(36.23) translate(306 0)">10</text>
<text transform="rotate(22.88) translate(146 0)">0</text>
<text transform="rotate(54.3) translate(354 0)">29</text>
<text transform="rotate(61.68) translate(354 0)">99</text>
<text transform="rotate(71.98) translate(354 0)">99</text>
<text transform="rotate(65.3) translate(338 0)">99</text>
<text transform="rotate(76.44) translate(354 0)">99</text>
<text transform="rotate(73.96) translate(322 0)">99</text>
<text transform="rotate(83.82) translate(354 0)">71</text>
<text transform="rotate(91.2) translate(354 0) rotate(180)">81</text>
<text transform="rotate(96.95) translate(338 0) rotate(180)">99</text>
<text transform="rotate(100.25) translate(322 0) rotate(180)">99</text>
<text transform="rotate(119.95) translate(354 0) rotate(180)">31</text>
<text transform="rotate(117.25) translate(338 0) rotate(180)">99</text>
<text transform="rotate(114.09) translate(322 0) rotate(180)">99</text>
<text transform="rotate(110.72) translate(306 0) rotate(180)">99</text>
<text transform="rotate(102.06) translate(290 0) rotate(180)">87</text>
<text transform="rotate(96.44) translate(274 0) rotate(180)">17</text>
<text transform="rotate(85.46) translate(258 0)">14</text>
<text transform="rotate(71.74) translate(242 0)">2</text>
<text transform="rotate(44.04) translate(130 0)">0</text>
<text transform="rotate(127.33) translate(354 0) rotate(180)">99</text>
<text transform="rotate(131.79) translate(354 0) rotate(180)">99</text>
<text transform="rotate(142.09) translate(354 0) rotate(180)">99</text>
<text transform="rotate(135.41) translate(338 0) rotate(180)">99</text>
<text transform="rotate(146.55) translate(354 0) rotate(180)">99</text>
<text transform="rotate(156.85) translate(354 0) rotate(180)">99</text>
<text transform="rotate(150.17) translate(338 0) rotate(180)">99</text>
<text transform="rotate(161.31) translate(354 0) rotate(180)">99</text>
<text transform="rotate(167.06) translate(338 0) rotate(180)">99</text>
<text transform="rotate(182.68) translate(354 0) rotate(180)">15</text>
<text transform="rotate(179.98) translate(338 0) rotate(180)">89</text>
<text transform="rotate(176.82) translate(322 0) rotate(180)">90</text>
<text transform="rotate(172.07) translate(306 0) rotate(180)">99</text>
<text transform="rotate(162.81) translate(290 0) rotate(180)">77</text>
<text transform="rotate(150.87) translate(274 0) rotate(180)">79</text>
<text transform="rotate(139.43) translate(258 0) rotate(180)">1</text>
<text transform="rotate(88.19) translate(114 0)">0</text>
<text transform="rotate(190.06) translate(354 0) rotate(180)">99</text>
<text transform="rotate(194.52) translate(354 0) rotate(180)">99</text>
<text transform="rotate(204.82) translate(354 0) rotate(180)">99</text>
<text transform="rotate(198.14) translate(338 0) rotate(180)">99</text>
<text transform="rotate(209.28) translate(354 0) rotate(180)">99</text>
<text transform="rotate(223.27) translate(354 0) rotate(180)">18</text>
<text transform="rotate(220.57) translate(338 0) rotate(180)">99</text>
<text transform="rotate(216.49) translate(322 0) rotate(180)">99</text>
<text transform="rotate(208.97) translate(306 0) rotate(180)">25</text>
<text transform="rotate(199.71) translate(290 0) rotate(180)">2</text>
<text transform="rotate(140.06) translate(98 0) rotate(180)">0</text>
<text transform="rotate(227.73) translate(354 0) rotate(180)">99</text>
<text transform="rotate(238.03) translate(354 0) rotate(180)">29</text>
<text transform="rotate(234.41) translate(338 0) rotate(180)">4</text>
<text transform="rotate(182.81) translate(82 0) rotate(180)">6</text>
<text transform="rotate(249.1) translate(354 0) rotate(180)">24</text>
<text transform="rotate(246.4) translate(338 0) rotate(180)">6</text>
</g>
<g id="clade-overlays">
<path id="blob-TAF" fill="rgb(178,55,132)" fill-opacity=".35" d="M262,167 C240,170 222,200 216,240 C210,290 220,335 262,350 C300,360 340,340 362,305 C378,280 372,258 355,240 C330,210 300,170 262,167 Z"/>
<path id="blob-GCN5" fill="rgb(138,138,138)" fill-opacity=".35" d="M137,745 C135,715 150,700 185,693 L270,688 C300,690 315,705 314,730 C313,755 300,768 280,778 C240,800 215,825 195,832 C165,838 145,815 140,790 Z"/>
<path id="blob-BRM" fill="rgb(52,184,126)" fill-opacity=".35" d="M178,890 C180,870 200,850 240,830 C270,812 300,790 330,772 C355,765 380,780 383,805 C385,835 365,870 340,895 C310,925 280,945 245,955 C215,958 190,940 180,915 Z"/>
<path id="blob-BRWD" fill="rgb(52,138,195)" fill-opacity=".35" d="M935,745 C905,748 888,770 886,800 C884,840 900,895 935,935 C960,963 990,972 1020,960 C1060,940 1100,905 1120,865 C1132,835 1120,805 1095,790 C1050,765 980,742 935,745 Z"/>
<path id="blob-BRAT" fill="rgb(241,155,26)" fill-opacity=".35" d="M755,890 C765,868 800,860 825,872 C860,890 880,940 888,1000 C893,1050 885,1095 850,1098 C815,1100 790,1070 775,1020 C762,975 748,915 755,890 Z"/>
</g>
<g id="brackets">
<path class="brk" stroke="#72bf44" d="M135,284 L114,276 L56,450 L128,488"/>
<path class="brk pb" d="M99,492 L76,492 L80,627 L106,625"/>
<path class="brk pb" d="M163,617 L88,632 L91,680 L103,726 L193,701"/>
<path class="brk pb" d="M1164,547 L1192,549 L1161,607 L1080,601"/>
<path class="brk pb" d="M546,996 L547,1012 Q590,1024 640,1021 L640,1005"/>
</g>
<g id="clade-labels" class="grp">
<text x="791" y="84.5">GTE</text>
<text x="180" y="276">TAF</text>
<text x="1" y="355">BANT</text>
<text x="8.5" y="570">TRIM</text>
<text x="36" y="695">BSP</text>
<text x="108.6" y="814.5">GCN5</text>
<text x="211" y="929">BRM</text>
<text x="557" y="1056">BRPF</text>
<text x="839" y="1068">BRAT</text>
<text x="1059" y="920.6">BRWD</text>
<text x="1187" y="593">CBP</text>
</g>
<text x="38" y="1182.7" font-size="26">b</text>
<g id="tree-b">
<path d="M381.5 1176.6H432.6M381.5 1211.2H432.6M333.2 1245.9H432.6M381.5 1280.5H432.6M381.5 1315.2H432.6M381.5 1349.8H432.6M381.5 1384.4H432.6M187.1 1419.1H432.6M333.2 1453.7H432.6M381.5 1488.4H432.6M381.5 1523H432.6M90.5 1557.6H432.6"/>
<path d="M381.5 1176.6V1211.2M333.2 1193.9V1245.9M381.5 1280.5V1315.2M284.1 1219.9V1297.85M381.5 1349.8V1384.4M235.4 1258.9V1367.1M187.1 1313V1419.1M381.5 1488.4V1523M333.2 1453.7V1505.7M138.8 1366.05V1479.7M90.5 1422.9V1557.6"/>
<path d="M333.2 1193.9H381.5M284.1 1219.9H333.2M284.1 1297.85H381.5M235.4 1258.9H284.1M235.4 1367.1H381.5M187.1 1313H235.4M138.8 1366.05H187.1M333.2 1505.7H381.5M138.8 1479.7H333.2M90.5 1422.9H138.8"/>
</g>
<g id="support-b" class="bb">
<text x="354" y="1189.6" textLength="28" lengthAdjust="spacingAndGlyphs">100</text>
<text x="311" y="1216" textLength="20" lengthAdjust="spacingAndGlyphs">99</text>
<text x="354" y="1319" textLength="28" lengthAdjust="spacingAndGlyphs">100</text>
<text x="261.6" y="1253" textLength="20" lengthAdjust="spacingAndGlyphs">96</text>
<text x="354" y="1388" textLength="28" lengthAdjust="spacingAndGlyphs">100</text>
<text x="208" y="1308" textLength="29" lengthAdjust="spacingAndGlyphs">100</text>
<text x="165" y="1362" textLength="20" lengthAdjust="spacingAndGlyphs">92</text>
<text x="359" y="1527.3" textLength="20" lengthAdjust="spacingAndGlyphs">95</text>
<text x="311" y="1501.1" textLength="20" lengthAdjust="spacingAndGlyphs">64</text>
</g>
<g id="labels-b" class="bl">
<text x="440.6" y="1185.6">AtGTE3</text>
<text x="440.6" y="1220.2">AtGTE5</text>
<text x="440.6" y="1254.9">AtGTE4</text>
<text x="440.6" y="1289.5" class="red">AtGTE2</text>
<text x="440.6" y="1324.2" class="red">AtGTE7</text>
<text x="440.6" y="1358.8">AtGTE1</text>
<text x="440.6" y="1393.4">AtGTE6</text>
<text x="440.6" y="1428.1">AtGTE12</text>
<text x="440.6" y="1462.7">AtGTE8</text>
<text x="440.6" y="1497.4">AtGTE9</text>
<text x="440.6" y="1532">AtGTE11</text>
<text x="440.6" y="1563.5">AtGTE10</text>
</g>
<g id="domains">
<rect class="gy" x="547.5" y="1169" width="163.3" height="15.2"/><rect class="pu" x="589.1" y="1169" width="33.6" height="15.2"/><rect class="gr" x="653.5" y="1169" width="26.9" height="15.2"/>
<rect class="gy" x="547.5" y="1203.6" width="174.5" height="15.2"/><rect class="pu" x="590.9" y="1203.6" width="33.6" height="15.2"/><rect class="gr" x="663.8" y="1203.6" width="26.9" height="15.2"/>
<rect class="gy" x="547.5" y="1238.3" width="266.3" height="15.2"/><rect class="pu" x="692.9" y="1238.3" width="33.6" height="15.2"/><rect class="gr" x="754.7" y="1238.3" width="26.8" height="15.2"/>
<rect class="gy" x="547.5" y="1272.9" width="205.8" height="15.2"/><rect class="pu" x="608.8" y="1272.9" width="33.1" height="15.2"/><rect class="gr" x="687.6" y="1272.9" width="25.9" height="15.2"/>
<rect class="gy" x="547.5" y="1307.6" width="209" height="15.2"/><rect class="pu" x="608.8" y="1307.6" width="33.1" height="15.2"/><rect class="gr" x="687.6" y="1307.6" width="25.9" height="15.2"/>
<rect class="gy" x="547.5" y="1342.2" width="142.3" height="15.2"/><rect class="pu" x="589.1" y="1342.2" width="33.6" height="15.2"/><rect class="gr" x="642.8" y="1342.2" width="26.9" height="15.2"/>
<rect class="gy" x="547.5" y="1376.8" width="142.3" height="15.2"/><rect class="pu" x="589.1" y="1376.8" width="33.6" height="15.2"/><rect class="gr" x="648.2" y="1376.8" width="26.8" height="15.2"/>
<rect class="gy" x="547.5" y="1411.5" width="174.5" height="15.2"/><rect class="pu" x="569.9" y="1411.5" width="33.5" height="15.2"/>
<rect class="gy" x="547.5" y="1446.1" width="284.2" height="15.2"/><rect class="pu" x="602.5" y="1446.1" width="33.1" height="15.2"/><rect class="gr" x="659.8" y="1446.1" width="26.9" height="15.2"/>
<rect class="gy" x="547.5" y="1480.8" width="241.6" height="15.2"/><rect class="pu" x="593.6" y="1480.8" width="33.5" height="15.2"/><rect class="gr" x="648.2" y="1480.8" width="26.8" height="15.2"/>
<rect class="gy" x="547.5" y="1515.4" width="241.6" height="15.2"/><rect class="pu" x="591.8" y="1515.4" width="33.6" height="15.2"/><rect class="gr" x="645.5" y="1515.4" width="26.8" height="15.2"/>
<rect class="gy" x="547.5" y="1550" width="368.3" height="15.2"/><rect class="pu" x="602.5" y="1550" width="33.1" height="15.2"/><rect class="gr" x="657.1" y="1550" width="26.9" height="15.2"/>
</g>
<g id="legend">
<rect class="pu" x="932.3" y="1462.5" width="33.6" height="15.2"/>
<text x="972.6" y="1477.7" font-size="21">Bromodomain</text>
<rect class="gr" x="932.3" y="1491.4" width="33.6" height="15.2"/>
<text x="972.6" y="1506.6" font-size="21">Bromo Extra Terminal</text>
</g>
</g>
</svg>
